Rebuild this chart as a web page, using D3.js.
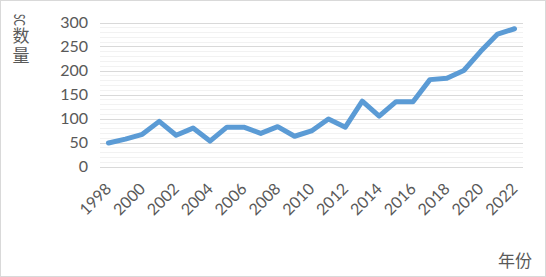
<!DOCTYPE html>
<html>
<head>
<meta charset="utf-8">
<script src="https://cdn.jsdelivr.net/npm/d3@7"></script>
<style>
  html, body { margin: 0; padding: 0; background: #fff; }
  svg { display: block; }
</style>
</head>
<body>
<svg id="chart" width="546" height="277"></svg>
<script>
const years = ["1998","1999","2000","2001","2002","2003","2004","2005","2006","2007","2008","2009","2010","2011","2012","2013","2014","2015","2016","2017","2018","2019","2020","2021","2022"];
const counts = [49, 57, 67, 94, 65, 80, 53, 82, 82, 69, 83, 63, 74, 99, 82, 136, 105, 135, 135, 181, 184, 200, 240, 276, 287];
const yTicks = [0, 50, 100, 150, 200, 250, 300];
const xLabels = ["1998","2000","2002","2004","2006","2008","2010","2012","2014","2016","2018","2020","2022"];
const yTitleLatin = "SC";
const yTitleCJK = ["数", "量"];
const xTitle = "年份";

const svg = d3.select("#chart");
const font = "Lato, 'Noto Sans CJK SC', sans-serif";
const textColor = "#595959";

// outer border
svg.append("rect").attr("x", 0.5).attr("y", 0.5).attr("width", 545).attr("height", 276)
  .attr("fill", "#fff").attr("stroke", "#d9d9d9").attr("stroke-width", 1);

const x = d3.scaleBand().domain(years).range([100, 523]);
const y = d3.scaleLinear().domain([0, 300]).range([166.5, 22.5]);

// minor grid
const minor = d3.range(0, 301, 10).filter(v => v % 50 !== 0);
svg.append("g").selectAll("line").data(minor).join("line")
  .attr("x1", 100).attr("x2", 523)
  .attr("y1", d => Math.round(y(d)) + 0.5).attr("y2", d => Math.round(y(d)) + 0.5)
  .attr("stroke", "#f2f2f2").attr("stroke-width", 1);

// major grid
svg.append("g").selectAll("line").data(yTicks).join("line")
  .attr("x1", 100).attr("x2", 523)
  .attr("y1", d => Math.round(y(d)) + 0.5).attr("y2", d => Math.round(y(d)) + 0.5)
  .attr("stroke", "#d9d9d9").attr("stroke-width", 1);

// y axis labels
const yAxis = d3.axisLeft(y).tickValues(yTicks).tickSize(0).tickPadding(0);
const gy = svg.append("g").attr("transform", "translate(88,0)").call(yAxis);
gy.select(".domain").remove();
gy.selectAll("text").attr("font-family", font).attr("font-size", 16).attr("fill", textColor);

// x axis labels
const xAxis = d3.axisBottom(x).tickValues(xLabels).tickSize(0).tickPadding(0);
const gx = svg.append("g").attr("transform", "translate(0,186)").call(xAxis);
gx.select(".domain").remove();
gx.selectAll("text")
  .attr("font-family", font).attr("font-size", 16).attr("fill", textColor)
  .attr("text-anchor", "end").attr("dy", "0.35em").attr("y", 0)
  .attr("transform", "rotate(-45)");

// line
const line = d3.line().x((d, i) => x(years[i]) + x.bandwidth() / 2).y(d => y(d));
svg.append("path").datum(counts).attr("d", line)
  .attr("fill", "none").attr("stroke", "#5b9bd5").attr("stroke-width", 5)
  .attr("stroke-linecap", "round").attr("stroke-linejoin", "round");

// y title: Latin part rotated, CJK chars upright stacked
svg.append("text")
  .attr("transform", "translate(14,14) rotate(90)")
  .attr("font-family", font).attr("font-size", 15).attr("fill", textColor)
  .attr("textLength", 12).attr("lengthAdjust", "spacingAndGlyphs")
  .text(yTitleLatin);
svg.append("g").selectAll("text").data(yTitleCJK).join("text")
  .attr("x", 21).attr("y", (d, i) => 42 + i * 20).attr("text-anchor", "middle")
  .attr("font-family", font).attr("font-size", 17).attr("fill", textColor)
  .text(d => d);

svg.append("text").attr("x", 532).attr("y", 267).attr("text-anchor", "end")
  .attr("font-family", font).attr("font-size", 17).attr("fill", textColor)
  .text(xTitle);
</script>
</body>
</html>
